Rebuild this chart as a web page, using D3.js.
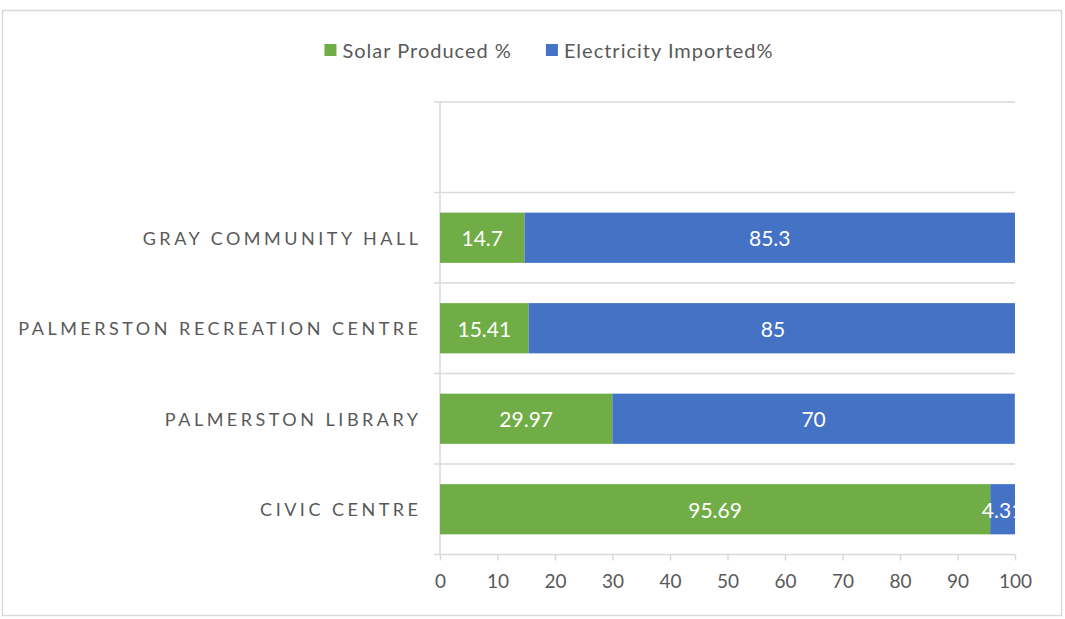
<!DOCTYPE html>
<html>
<head>
<meta charset="utf-8">
<script src="https://cdn.jsdelivr.net/npm/d3@7"></script>
<style>
  html, body { margin: 0; padding: 0; background: #fff; }
  svg { display: block; font-family: Lato, "Liberation Sans", sans-serif; }
</style>
</head>
<body>
<svg id="chart" width="1065" height="619"></svg>
<script>
// Sites, listed bottom-to-top as on the category axis (the top slot is blank)
const categories = ["CIVIC CENTRE", "PALMERSTON LIBRARY", "PALMERSTON RECREATION CENTRE", "GRAY COMMUNITY HALL", ""];
const solarProduced = [95.69, 29.97, 15.41, 14.7, null];
const electricityImported = [4.31, 70, 85, 85.3, null];
const seriesNames = ["Solar Produced %", "Electricity Imported%"];
const seriesColors = ["#70ad47", "#4472c4"];
const xTicks = [0, 10, 20, 30, 40, 50, 60, 70, 80, 90, 100];

const svg = d3.select("#chart");
const plot = { left: 440, right: 1015, top: 102, bottom: 554.5 };
const gridColor = "#d9d9d9";
const textColor = "#595959";

// Chart frame
svg.append("rect")
  .attr("x", 2.5).attr("y", 10.5)
  .attr("width", 1059).attr("height", 605)
  .attr("fill", "#fff").attr("stroke", gridColor).attr("stroke-width", 1.5);

const x = d3.scaleLinear().domain([0, 100]).range([plot.left, plot.right]);
const y = d3.scaleBand()
  .domain(d3.range(categories.length).reverse())
  .range([plot.top, plot.bottom])
  .paddingInner(0.445)
  .paddingOuter(0.2225);

// Category boundary gridlines and the axis line
const step = y.step();
const bounds = d3.range(categories.length + 1).map(i => plot.top + i * step);
svg.append("g").selectAll("line").data(bounds).join("line")
  .attr("x1", plot.left - 6).attr("x2", plot.right)
  .attr("y1", d => d).attr("y2", d => d)
  .attr("stroke", gridColor).attr("stroke-width", 1.5);
svg.append("line")
  .attr("x1", plot.left).attr("x2", plot.left)
  .attr("y1", plot.top).attr("y2", plot.bottom)
  .attr("stroke", gridColor).attr("stroke-width", 1.5);

// Value axis along the bottom
const xAxis = svg.append("g")
  .attr("transform", `translate(0,${plot.bottom})`)
  .call(d3.axisBottom(x).tickValues(xTicks).tickSize(6).tickPadding(14).tickFormat(d3.format("d")));
xAxis.select(".domain").remove();
xAxis.selectAll(".tick line").attr("stroke", gridColor).attr("stroke-width", 1.5);
xAxis.selectAll(".tick text")
  .attr("fill", textColor).style("font-size", "19px").style("font-family", "Lato, sans-serif");

// Category labels
const labelSpacing = 3.5;
svg.append("g").selectAll("text").data(categories).join("text")
  .attr("x", plot.left - 22 + labelSpacing)
  .attr("y", (d, i) => y(i) + y.bandwidth() / 2)
  .attr("text-anchor", "end")
  .attr("dominant-baseline", "central")
  .attr("fill", textColor)
  .style("font-size", "18px")
  .style("letter-spacing", labelSpacing + "px")
  .text(d => d);

// Stacked bars, clipped to the plot area
svg.append("clipPath").attr("id", "plotClip")
  .append("rect")
  .attr("x", plot.left).attr("y", plot.top)
  .attr("width", plot.right - plot.left).attr("height", plot.bottom - plot.top);

const rows = categories.map((c, i) => ({ i, values: [solarProduced[i], electricityImported[i]] }))
  .filter(r => r.values[0] != null);
const segments = [];
rows.forEach(r => {
  let start = 0;
  r.values.forEach((v, s) => {
    segments.push({ i: r.i, s, v, x0: start, x1: start + v });
    start += v;
  });
});

const barsG = svg.append("g").attr("clip-path", "url(#plotClip)");
barsG.selectAll("rect").data(segments).join("rect")
  .attr("x", d => x(d.x0))
  .attr("y", d => y(d.i))
  .attr("width", d => x(d.x1) - x(d.x0))
  .attr("height", y.bandwidth())
  .attr("fill", d => seriesColors[d.s]);

barsG.selectAll("text").data(segments).join("text")
  .attr("x", d => x((d.x0 + Math.min(d.x1, 100.41)) / 2))
  .attr("y", d => y(d.i) + y.bandwidth() / 2)
  .attr("text-anchor", "middle")
  .attr("dominant-baseline", "central")
  .attr("fill", "#fff")
  .style("font-size", "21px")
  .text(d => d.v);

// Legend, centred above the plot
const legend = svg.append("g").attr("transform", "translate(0,50)");
const items = legend.selectAll("g").data(seriesNames).join("g");
items.append("rect")
  .attr("width", 12).attr("height", 12).attr("y", -6)
  .attr("fill", (d, i) => seriesColors[i]);
items.append("text")
  .attr("x", 18).attr("y", 0)
  .attr("dominant-baseline", "central")
  .attr("fill", textColor)
  .style("font-size", "20px")
  .style("letter-spacing", "1px")
  .text(d => d);
const widths = [];
items.each(function () { widths.push(18 + this.querySelector("text").getComputedTextLength()); });
const gap = 34;
const total = d3.sum(widths) + gap * (widths.length - 1);
let cursor = 549 - total / 2;
items.attr("transform", (d, i) => {
  const t = `translate(${cursor},0)`;
  cursor += widths[i] + gap;
  return t;
});
</script>
</body>
</html>
